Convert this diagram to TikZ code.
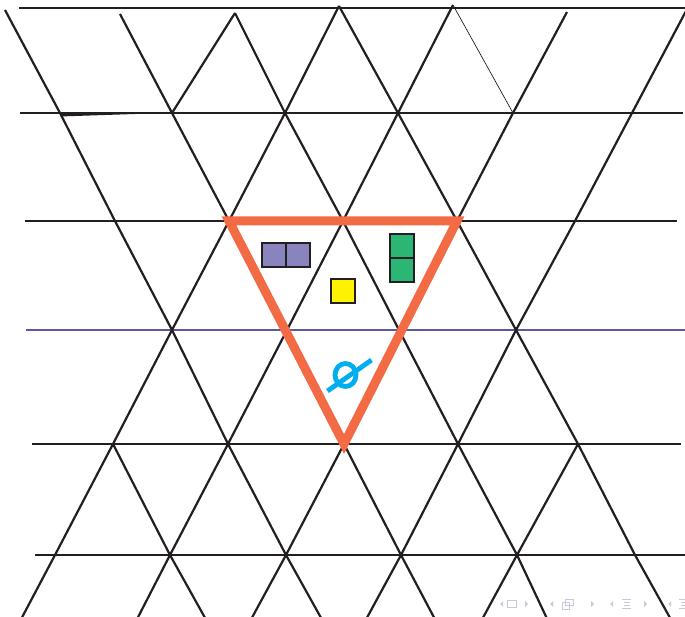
\documentclass[tikz,border=0pt]{standalone}
\usepackage{xcolor}
\usepackage{tikz}
\usetikzlibrary{positioning}

\definecolor{ink}{RGB}{35,31,32}
\definecolor{frameorange}{RGB}{242,107,69}
\definecolor{lilac}{RGB}{137,131,190}
\definecolor{leaf}{RGB}{43,182,115}
\definecolor{lemon}{RGB}{255,242,0}
\definecolor{sky}{RGB}{0,174,239}
\definecolor{rulepurple}{RGB}{92,88,165}
\definecolor{navgray}{RGB}{200,200,222}

\begin{document}
\begin{tikzpicture}[
    x=1pt, y=-1pt,
    edge/.style={draw=ink, line width=2.2pt},
    thinedge/.style={draw=ink, line width=0.7pt},
    level/.style={draw=ink, line width=2pt},
    midlevel/.style={draw=rulepurple, line width=2pt},
    frame/.style={draw=frameorange, line width=9pt, line join=miter},
    cell/.style={
        rectangle,
        draw=ink,
        line width=2pt,
        minimum size=24pt,
        inner sep=0pt,
        outer sep=0pt
    },
    navtip/.style={fill=navgray},
    navline/.style={draw=navgray, line width=0.8pt}
]
\useasboundingbox (0,0) rectangle (685,617);
\clip (0,0) rectangle (685,617);

\foreach \x/\y [count=\i] in {5/10,120/14,235/13,339/6,453/5,567/12,686/11}
    \coordinate (a\i) at (\x,\y);
\foreach \x [count=\i] in {60,172,285,398,513,632}
    \coordinate (b\i) at (\x,113);
\foreach \x [count=\i] in {115,229,343,457,575}
    \coordinate (c\i) at (\x,221);
\foreach \x [count=\i] in {172,287,399,516}
    \coordinate (d\i) at (\x,330);
\foreach \x [count=\i] in {113,228,344,458,578}
    \coordinate (e\i) at (\x,444);
\foreach \x [count=\i] in {55,170,286,401,517,635}
    \coordinate (f\i) at (\x,555);
\foreach \x [count=\i] in {18,134,209,248,325,363,438,479,550,674}
    \coordinate (g\i) at (\x,625);

\foreach \y/\l/\r [count=\i from 0] in {8/19/690,113/20/683,221/25/677,330/26/690,444/32/681,555/35/690} {
    \coordinate (l\i) at (\l,\y);
    \coordinate (r\i) at (\r,\y);
}

\foreach \i in {0,1,2,4,5}
    \draw[level] (l\i) -- (r\i);
\draw[midlevel] (l3) -- (r3);
\fill[ink] (b1) -- (60,116.5) -- (150,113.5) -- cycle;

\foreach \p/\q in {a1/b1,a2/b2,a3/b2,a3/b3,a4/b3,a4/b4,a5/b4,a6/b5,a7/b6,
    b1/c1,b2/c2,b3/c2,b3/c3,b4/c3,b4/c4,b5/c4,b6/c5,
    c1/d1,c2/d1,c2/d2,c3/d2,c3/d3,c4/d3,c4/d4,c5/d4,
    d1/e1,d1/e2,d2/e2,d2/e3,d3/e3,d3/e4,d4/e4,d4/e5,
    e1/f1,e1/f2,e2/f2,e2/f3,e3/f3,e3/f4,e4/f4,e4/f5,e5/f5,e5/f6,
    f1/g1,f2/g2,f2/g3,f3/g4,f3/g5,f4/g6,f4/g7,f5/g8,f5/g9,f6/g10}
    \draw[edge] (\p) -- (\q);
\draw[thinedge] (a5) -- (b5);

\draw[frame] (c2) -- (c4) -- (e3) -- cycle;

\node[cell, fill=lilac] (lilacA) at (274,255.5) {};
\node[cell, fill=lilac, right=0pt of lilacA] (lilacB) {};
\node[cell, fill=leaf] (leafA) at (401.5,246) {};
\node[cell, fill=leaf, below=0pt of leafA] (leafB) {};
\node[cell, fill=lemon] (lemonA) at (342.5,291.5) {};

\coordinate (empty) at (345.5,375);
\draw[sky, line width=4.8pt] (empty) ellipse[x radius=10.5, y radius=11.5];
\draw[sky, line width=4.8pt] (327.5,391) -- (371.5,360);

\foreach \x in {500,550,610,668}
    \fill[navtip] (\x,604) -- ++(3,-3) -- ++(0,6) -- cycle;
\foreach \x in {528,594,647}
    \fill[navtip] (\x,604) -- ++(-3,-3) -- ++(0,6) -- cycle;
\draw[navline] (507.5,600.5) rectangle (516,607);
\draw[navline] (562,602.5) rectangle (569.5,609);
\draw[navline] (565.5,599) rectangle (573,605.5);
\foreach \x in {622,679} {
    \draw[navline] (\x,599.5) -- ++(9,0);
    \draw[navline] (\x+2,602.5) -- ++(6,0);
    \draw[navline] (\x+2,605.5) -- ++(6,0);
    \draw[navline] (\x,608.5) -- ++(9,0);
}
\end{tikzpicture}
\end{document}
